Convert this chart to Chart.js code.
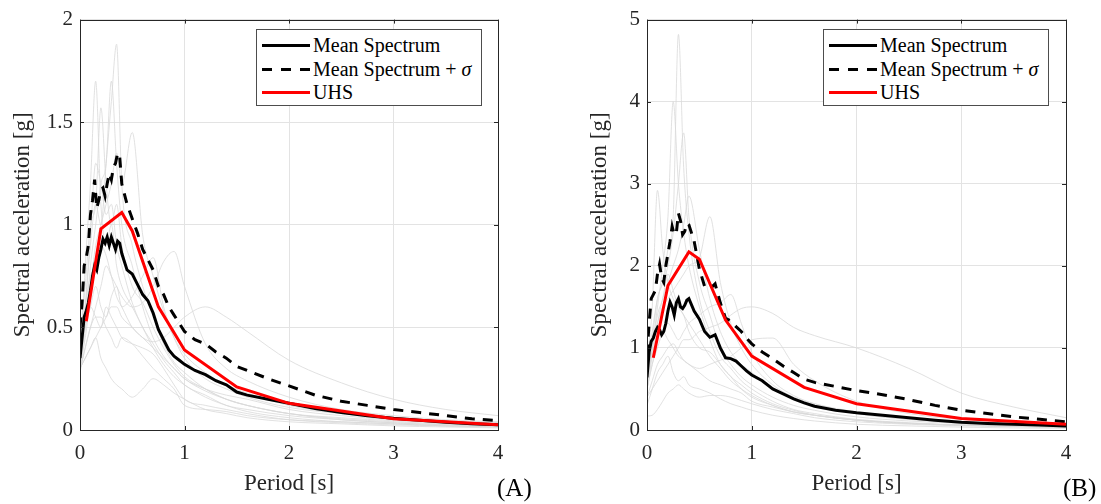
<!DOCTYPE html>
<html>
<head>
<meta charset="utf-8">
<script src="https://cdn.jsdelivr.net/npm/chart.js@4"></script>
<style>
  body { margin: 0; background: #fff; width: 1101px; height: 504px; position: relative; overflow: hidden;
         font-family: 'Liberation Serif', 'Times New Roman', serif; }
  canvas { position: absolute; top: 0; }
  #chartA { left: 0; }
  #chartB { left: 550px; }
  .legend { position: absolute; top: 29px; width: 226px; height: 77px; box-sizing: border-box;
            border: 1px solid #4d4d4d; background: #fff; font-size: 20px; color: #000; }
  .legend .row { position: absolute; left: 5px; height: 24px; display: flex; align-items: center; white-space: nowrap; }
  .legend .swatch { width: 48px; height: 3px; margin-right: 3px; }
  .tag { position: absolute; top: 475px; font-size: 25px; line-height: 25px; color: #000; }
</style>
</head>
<body>
<canvas id="chartA" width="550" height="504"></canvas>
<canvas id="chartB" width="551" height="504"></canvas>
<div class="legend" id="legendA" style="left:256px"></div>
<div class="legend" id="legendB" style="left:823px"></div>
<div class="tag" style="left:497px">(A)</div>
<div class="tag" style="left:1063px">(B)</div>
<script>
// labels
const seriesLabels = ['Mean Spectrum', 'Mean Spectrum + <i>σ</i>', 'UHS'];
const xTitle = 'Period [s]';
const yTitle = 'Spectral acceleration [g]';

// period grid of the mean curves
const periods = [0, 0.02, 0.04, 0.06, 0.08, 0.1, 0.12, 0.14, 0.16, 0.18, 0.2, 0.22, 0.24, 0.26, 0.28, 0.3,
  0.32, 0.34, 0.36, 0.38, 0.4, 0.45, 0.5, 0.55, 0.6, 0.65, 0.7, 0.75, 0.8, 0.85, 0.9, 0.95, 1.0,
  1.1, 1.2, 1.3, 1.4, 1.5, 1.6, 1.8, 2.0, 2.25, 2.5, 2.75, 3.0, 3.25, 3.5, 3.75, 4.0];

// panel A
const meanA = [0.35, 0.45, 0.55, 0.58, 0.62, 0.68, 0.75, 0.80, 0.78, 0.84, 0.88, 0.93, 0.91, 0.94, 0.90, 0.94,
  0.91, 0.88, 0.92, 0.91, 0.86, 0.78, 0.76, 0.71, 0.66, 0.63, 0.57, 0.49, 0.44, 0.39, 0.36, 0.34, 0.32,
  0.29, 0.27, 0.24, 0.22, 0.185, 0.17, 0.15, 0.13, 0.105, 0.085, 0.07, 0.057, 0.047, 0.038, 0.031, 0.025];
const meanSigmaA = [0.5, 0.62, 0.8, 0.84, 0.9, 1.05, 1.12, 1.22, 1.08, 1.12, 1.17, 1.18, 1.14, 1.2, 1.25, 1.22,
  1.28, 1.3, 1.35, 1.33, 1.2, 1.1, 1.03, 0.96, 0.88, 0.83, 0.78, 0.7, 0.66, 0.6, 0.56, 0.52, 0.48,
  0.44, 0.42, 0.38, 0.35, 0.31, 0.29, 0.25, 0.215, 0.17, 0.14, 0.12, 0.10, 0.085, 0.07, 0.055, 0.045];

// panel B
const meanB = [0.64, 0.95, 1.08, 1.12, 1.2, 1.25, 1.22, 1.16, 1.2, 1.3, 1.45, 1.56, 1.5, 1.4, 1.55, 1.6,
  1.5, 1.48, 1.52, 1.58, 1.6, 1.45, 1.35, 1.2, 1.13, 1.16, 1.0, 0.88, 0.87, 0.84, 0.78, 0.72, 0.67,
  0.6, 0.5, 0.44, 0.38, 0.33, 0.29, 0.24, 0.21, 0.18, 0.15, 0.12, 0.095, 0.08, 0.07, 0.06, 0.05];
const meanSigmaB = [0.92, 1.3, 1.6, 1.65, 1.7, 1.9, 2.02, 1.85, 1.8, 2.0, 2.15, 2.3, 2.48, 2.38, 2.4, 2.64,
  2.55, 2.38, 2.42, 2.52, 2.5, 2.3, 1.96, 1.75, 1.72, 1.78, 1.55, 1.36, 1.33, 1.26, 1.2, 1.12, 1.05,
  0.95, 0.87, 0.78, 0.7, 0.62, 0.58, 0.53, 0.48, 0.43, 0.37, 0.3, 0.24, 0.2, 0.16, 0.13, 0.1];

// uniform hazard spectra
const uhsPeriods = [0.06, 0.2, 0.4, 0.5, 0.75, 1.0, 1.5, 2.0, 3.0, 4.0];
const uhsA = [0.53, 0.98, 1.06, 0.97, 0.60, 0.39, 0.21, 0.13, 0.055, 0.025];
const uhsB = [0.88, 1.76, 2.17, 2.08, 1.34, 0.90, 0.52, 0.32, 0.14, 0.07];

// individual records (light grey)
const recPeriods = [0, 0.05, 0.1, 0.15, 0.2, 0.25, 0.3, 0.35, 0.4, 0.5, 0.6, 0.7, 0.8, 0.9, 1.0,
  1.2, 1.4, 1.6, 2.0, 2.5, 3.0, 3.5, 4.0];
const recordsA = [
  [0.35, 0.6, 0.9, 1.1, 1.0, 1.3, 1.6, 1.88, 1.2, 0.9, 0.7, 0.55, 0.42, 0.33, 0.28, 0.2, 0.15, 0.12, 0.08, 0.05, 0.035, 0.025, 0.02],
  [0.3, 0.8, 1.2, 1.7, 1.1, 0.9, 1.0, 0.8, 0.7, 0.6, 0.5, 0.4, 0.32, 0.26, 0.22, 0.16, 0.12, 0.09, 0.06, 0.04, 0.03, 0.02, 0.015],
  [0.4, 0.7, 1.0, 1.1, 1.57, 1.2, 1.0, 1.1, 0.9, 0.7, 0.62, 0.5, 0.4, 0.32, 0.26, 0.2, 0.15, 0.12, 0.08, 0.055, 0.04, 0.03, 0.022],
  [0.3, 0.5, 0.8, 1.0, 1.2, 1.3, 1.7, 1.3, 1.0, 0.8, 0.6, 0.45, 0.36, 0.3, 0.25, 0.19, 0.15, 0.12, 0.08, 0.06, 0.045, 0.035, 0.028],
  [0.35, 0.55, 0.7, 0.9, 1.0, 1.1, 1.2, 1.35, 1.2, 1.45, 0.95, 0.75, 0.58, 0.45, 0.37, 0.28, 0.22, 0.18, 0.12, 0.08, 0.06, 0.045, 0.035],
  [0.3, 0.4, 0.5, 0.6, 0.7, 0.8, 0.75, 0.7, 0.65, 0.6, 0.62, 0.7, 0.82, 0.87, 0.7, 0.42, 0.3, 0.24, 0.16, 0.1, 0.07, 0.05, 0.04],
  [0.3, 0.35, 0.4, 0.45, 0.5, 0.55, 0.6, 0.6, 0.55, 0.5, 0.45, 0.43, 0.45, 0.5, 0.55, 0.6, 0.55, 0.48, 0.34, 0.23, 0.15, 0.1, 0.07],
  [0.35, 0.5, 0.6, 0.7, 0.6, 0.55, 0.65, 0.7, 0.6, 0.65, 0.75, 0.84, 0.6, 0.45, 0.35, 0.25, 0.2, 0.16, 0.11, 0.08, 0.06, 0.045, 0.035],
  [0.3, 0.35, 0.4, 0.45, 0.35, 0.3, 0.25, 0.22, 0.2, 0.16, 0.2, 0.25, 0.22, 0.18, 0.15, 0.1, 0.08, 0.06, 0.04, 0.03, 0.02, 0.015, 0.01],
  [0.3, 0.45, 0.6, 0.55, 0.5, 0.6, 0.55, 0.5, 0.45, 0.42, 0.4, 0.37, 0.3, 0.22, 0.15, 0.12, 0.1, 0.08, 0.05, 0.035, 0.025, 0.02, 0.015],
  [0.35, 0.6, 0.75, 0.8, 0.9, 0.85, 0.75, 0.65, 0.6, 0.5, 0.45, 0.4, 0.35, 0.3, 0.25, 0.2, 0.17, 0.15, 0.1, 0.07, 0.05, 0.04, 0.03],
  [0.28, 0.4, 0.5, 0.55, 0.55, 0.5, 0.45, 0.4, 0.45, 0.42, 0.36, 0.3, 0.25, 0.2, 0.12, 0.1, 0.09, 0.07, 0.05, 0.04, 0.03, 0.02, 0.015],
  [0.3, 0.6, 0.95, 1.3, 1.2, 1.05, 1.1, 0.9, 0.8, 0.62, 0.5, 0.42, 0.34, 0.28, 0.22, 0.17, 0.12, 0.1, 0.07, 0.05, 0.035, 0.025, 0.02]
];
const recordsB = [
  [0.6, 1.1, 1.6, 1.8, 2.2, 2.6, 4.82, 3.2, 2.4, 1.6, 1.2, 0.9, 0.75, 0.6, 0.5, 0.35, 0.25, 0.2, 0.13, 0.09, 0.06, 0.045, 0.035],
  [0.5, 1.0, 1.5, 2.0, 2.6, 4.0, 3.0, 2.4, 2.0, 1.5, 1.1, 0.8, 0.65, 0.5, 0.4, 0.3, 0.22, 0.18, 0.12, 0.08, 0.06, 0.045, 0.035],
  [0.7, 1.2, 1.6, 1.8, 2.0, 2.4, 3.0, 3.62, 2.6, 1.8, 1.4, 1.0, 0.8, 0.65, 0.55, 0.4, 0.3, 0.24, 0.16, 0.11, 0.08, 0.06, 0.05],
  [0.8, 1.5, 2.92, 2.2, 1.8, 1.6, 1.5, 1.4, 1.3, 1.1, 0.9, 0.75, 0.6, 0.5, 0.42, 0.3, 0.22, 0.18, 0.12, 0.08, 0.06, 0.045, 0.035],
  [0.5, 0.9, 1.3, 1.6, 1.8, 2.0, 2.2, 2.5, 2.85, 2.2, 1.6, 1.2, 0.95, 0.8, 0.7, 0.5, 0.38, 0.3, 0.2, 0.13, 0.09, 0.07, 0.055],
  [0.6, 1.0, 1.3, 1.5, 1.6, 1.7, 1.8, 1.9, 2.0, 2.1, 2.6, 1.8, 1.3, 1.0, 0.8, 0.55, 0.4, 0.32, 0.22, 0.15, 0.1, 0.08, 0.06],
  [0.4, 0.5, 0.6, 0.7, 0.8, 0.9, 1.0, 1.1, 1.1, 1.2, 1.25, 1.3, 1.4, 1.48, 1.5, 1.42, 1.25, 1.15, 1.0, 0.75, 0.45, 0.28, 0.15],
  [0.5, 0.8, 1.0, 1.2, 1.3, 1.2, 1.1, 1.2, 1.3, 1.4, 1.5, 1.55, 1.65, 1.3, 0.95, 0.6, 0.42, 0.32, 0.2, 0.13, 0.09, 0.07, 0.055],
  [0.4, 0.6, 0.8, 0.9, 1.0, 1.05, 0.95, 0.85, 0.8, 0.75, 0.8, 0.85, 0.9, 1.0, 1.1, 1.12, 0.8, 0.6, 0.35, 0.2, 0.13, 0.09, 0.07],
  [0.17, 0.18, 0.25, 0.35, 0.45, 0.5, 0.55, 0.5, 0.45, 0.4, 0.42, 0.42, 0.4, 0.36, 0.32, 0.25, 0.2, 0.15, 0.1, 0.07, 0.05, 0.04, 0.03],
  [0.5, 0.8, 1.1, 1.2, 1.1, 1.0, 0.9, 0.85, 0.8, 0.7, 0.6, 0.55, 0.5, 0.45, 0.35, 0.28, 0.22, 0.18, 0.12, 0.08, 0.06, 0.045, 0.035],
  [0.6, 1.0, 1.4, 1.6, 1.9, 1.7, 1.5, 1.4, 1.2, 1.0, 0.95, 0.8, 0.65, 0.55, 0.45, 0.32, 0.24, 0.18, 0.12, 0.08, 0.06, 0.045, 0.035],
  [0.3, 0.5, 0.7, 0.8, 0.9, 0.7, 0.6, 0.65, 0.55, 0.5, 0.45, 0.38, 0.32, 0.28, 0.24, 0.18, 0.14, 0.11, 0.07, 0.05, 0.035, 0.025, 0.02]
];

const fontFamily = "'Liberation Serif', 'Times New Roman', serif";
const axisColor = '#262626';
const gridColor = '#e3e3e3';

const pairs = (xs, ys) => xs.map((x, i) => ({ x: x, y: ys[i] }));

// box round the axes with inward tick marks, like matlab
const framePlugin = {
  id: 'frame',
  afterDatasetsDraw(chart) {
    const { ctx, chartArea: a, scales: { x, y } } = chart;
    ctx.save();
    ctx.strokeStyle = axisColor;
    ctx.lineWidth = 1;
    ctx.beginPath();
    x.ticks.forEach(t => {
      const px = Math.round(x.getPixelForValue(t.value)) + 0.5;
      ctx.moveTo(px, a.bottom); ctx.lineTo(px, a.bottom - 4);
      ctx.moveTo(px, a.top); ctx.lineTo(px, a.top + 4);
    });
    y.ticks.forEach(t => {
      const py = Math.round(y.getPixelForValue(t.value)) + 0.5;
      ctx.moveTo(a.left, py); ctx.lineTo(a.left + 4, py);
      ctx.moveTo(a.right, py); ctx.lineTo(a.right - 4, py);
    });
    ctx.stroke();
    ctx.strokeRect(Math.round(a.left) + 0.5, Math.round(a.top) + 0.5,
      Math.round(a.right - a.left), Math.round(a.bottom - a.top));
    ctx.restore();
  }
};

const plainTick = v => String(+v.toFixed(2));

function buildChart(id, p) {
  const datasets = [
    { label: seriesLabels[2], data: pairs(uhsPeriods, p.uhs), borderColor: '#ff0000', borderWidth: 3 },
    { label: seriesLabels[0], data: pairs(periods, p.mean), borderColor: '#000000', borderWidth: 3 },
    { label: seriesLabels[1], data: pairs(periods, p.meanSigma), borderColor: '#000000', borderWidth: 3, borderDash: [10, 8] }
  ];
  p.records.forEach(r => {
    datasets.push({ data: pairs(recPeriods, r), borderColor: '#d9d9d9', borderWidth: 0.8,
      cubicInterpolationMode: 'monotone' });
  });

  return new Chart(document.getElementById(id), {
    type: 'line',
    data: { datasets: datasets },
    plugins: [framePlugin],
    options: {
      responsive: false,
      animation: false,
      events: [],
      elements: { point: { radius: 0 }, line: { tension: 0 } },
      layout: { padding: { left: 0, right: p.padRight, top: 13, bottom: 0 } },
      plugins: { legend: { display: false }, tooltip: { enabled: false } },
      scales: {
        x: {
          type: 'linear', min: 0, max: 4,
          ticks: { stepSize: 1, color: axisColor, padding: 11, font: { family: fontFamily, size: 21 },
            callback: plainTick },
          grid: { color: gridColor, drawTicks: false },
          border: { display: false },
          title: { display: true, text: xTitle, color: axisColor, font: { family: fontFamily, size: 23 },
            padding: { top: 0, bottom: 6 } },
          afterFit(s) { s.height = 74; }
        },
        y: {
          min: 0, max: p.yMax,
          ticks: { stepSize: p.yStep, color: axisColor, padding: 7, font: { family: fontFamily, size: 21 },
            callback: plainTick },
          grid: { color: gridColor, drawTicks: false },
          border: { display: false },
          title: { display: true, text: yTitle, color: axisColor, font: { family: fontFamily, size: 23 },
            padding: { top: p.titlePad, bottom: 0 } },
          afterFit(s) { s.width = p.yWidth; }
        }
      }
    }
  });
}

function buildLegend(id) {
  const box = document.getElementById(id);
  const swatches = [
    'background:#000',
    'background:repeating-linear-gradient(to right,#000 0 10px,transparent 10px 19px)',
    'background:#ff0000'
  ];
  const tops = [3, 27, 50];
  seriesLabels.forEach((lab, i) => {
    const row = document.createElement('div');
    row.className = 'row';
    row.style.top = tops[i] + 'px';
    row.innerHTML = '<span class="swatch" style="' + swatches[i] + '"></span><span>' + lab + '</span>';
    box.appendChild(row);
  });
}

buildChart('chartA', { mean: meanA, meanSigma: meanSigmaA, uhs: uhsA, records: recordsA,
  yMax: 2, yStep: 0.5, yWidth: 80, titlePad: 9, padRight: 52 });
buildChart('chartB', { mean: meanB, meanSigma: meanSigmaB, uhs: uhsB, records: recordsB,
  yMax: 5, yStep: 1, yWidth: 97, titlePad: 36, padRight: 35 });
buildLegend('legendA');
buildLegend('legendB');
</script>
</body>
</html>
